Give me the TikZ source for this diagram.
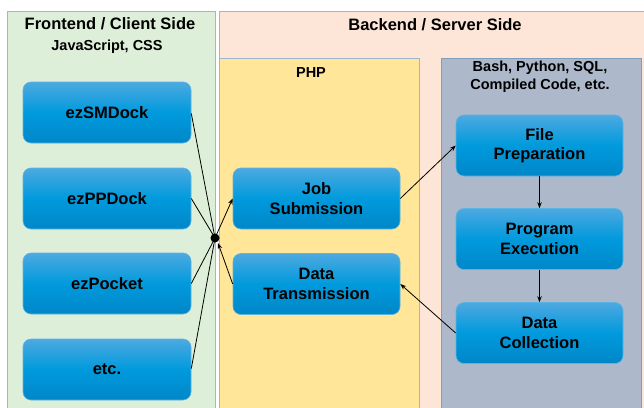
\documentclass[tikz,border=0pt]{standalone}
\usepackage{fontspec}
\setmainfont{Liberation Sans}
\usetikzlibrary{arrows.meta}
\definecolor{frontfill}{HTML}{DEEFD9}
\definecolor{backfill}{HTML}{FDE5D7}
\definecolor{phpfill}{HTML}{FFE699}
\definecolor{bashfill}{HTML}{ADB9CA}
\definecolor{panelline}{HTML}{9DB7D0}
\definecolor{bashline}{HTML}{7F9DBD}
\definecolor{boxtop}{HTML}{4DA9E0}
\definecolor{boxmid}{HTML}{009ADD}
\definecolor{boxbot}{HTML}{0087C8}
\definecolor{boxline}{HTML}{5CB4E3}
\tikzset{
  panel/.style={draw=panelline, line width=0.8pt},
  procbox/.style={draw=boxline, line width=0.6pt, rounded corners=8pt,
    top color=boxtop, bottom color=boxbot, middle color=boxmid,
    minimum width=168pt, minimum height=61pt, align=center,
    font=\fontsize{16.5}{19.5}\selectfont\bfseries, text=black, inner sep=0pt},
  title/.style={font=\fontsize{16.5}{19.5}\selectfont\bfseries, align=center, inner sep=0pt},
  subtitle/.style={font=\fontsize{14.5}{18}\selectfont\bfseries, align=center, inner sep=0pt},
  conn/.style={line width=0.8pt, draw=black},
  arr/.style={conn, -{Stealth[length=6pt,width=4.5pt]}},
}
\begin{document}
\begin{tikzpicture}[x=1pt,y=-1pt]
\useasboundingbox (0,0) rectangle (644,407);
\fill[white] (0,0) rectangle (644,407);
% panels
\filldraw[panel, fill=frontfill] (7,11) rectangle (215,412);
\filldraw[panel, fill=backfill] (219,11) rectangle (650,412);
\filldraw[panel, fill=phpfill] (219,58) rectangle (419,412);
\filldraw[draw=bashline, line width=0.8pt, fill=bashfill] (441,58) rectangle (641,412);
% titles
\node[title] (ftitle) at (110,24) {Frontend / Client Side};
\node[subtitle] (fsub) at (107,47) {JavaScript, CSS};
\node[title] (btitle) at (435,25) {Backend / Server Side};
\node[subtitle] (php) at (311,73) {PHP};
\node[subtitle] (bash) at (540,77) {Bash, Python, SQL,\\Compiled Code, etc.};
% left boxes
\node[procbox] (sm) at (107,112.5) {ezSMDock};
\node[procbox] (pp) at (107,198.5) {ezPPDock};
\node[procbox] (pk) at (107,283.5) {ezPocket};
\node[procbox] (etc) at (107,369.5) {etc.};
% php boxes
\node[procbox, minimum width=167pt] (job) at (316.5,198.5) {Job\\Submission};
\node[procbox, minimum width=167pt] (dt) at (316.5,284) {Data\\Transmission};
% bash boxes
\node[procbox, minimum width=167pt] (fp) at (539.5,145.5) {File\\Preparation};
\node[procbox, minimum width=167pt] (pe) at (539.5,239) {Program\\Execution};
\node[procbox, minimum width=167pt] (dc) at (539.5,333) {Data\\Collection};
% hub
\fill (215,238) circle (4.5pt);
\coordinate (hub) at (215,238);
% connectors
\draw[conn] ([yshift=-1pt]sm.east) -- (hub);
\draw[conn] (pp.east) -- (hub);
\draw[conn] (pk.east) -- (hub);
\draw[conn] ([yshift=1pt]etc.east) -- (hub);
\draw[arr] (hub) -- (job.west);
\draw[arr] (dt.west) -- ([xshift=3pt,yshift=-5pt]hub);
\draw[arr] (job.east) -- (fp.west);
\draw[arr] (fp.south) -- (pe.north);
\draw[arr] (pe.south) -- (dc.north);
\draw[arr] (dc.west) -- (dt.east);
\end{tikzpicture}
\end{document}
